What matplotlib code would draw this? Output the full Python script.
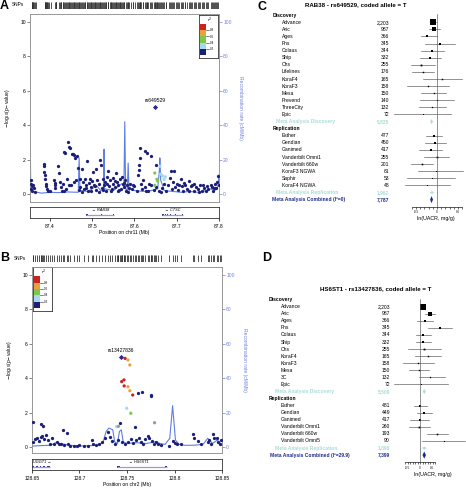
import matplotlib
matplotlib.use("Agg")
import matplotlib.pyplot as plt
import matplotlib.transforms as mtransforms
from matplotlib.patches import Polygon, Rectangle
import numpy as np

plt.rcParams['font.family'] = ['Liberation Sans', 'DejaVu Sans']

# ---------------- Panel A data (chr11, RAB38 region) ----------------
a_navy = [
    (87.354, 0.3), (87.355, 0.6), (87.356, 0.8), (87.357, 0.45), (87.358, 0.2), (87.360, 0.55),
    (87.362, 0.35), (87.364, 0.1), (87.385, 1.75), (87.386, 1.6), (87.387, 1.3), (87.388, 1.1),
    (87.389, 0.9), (87.390, 0.6), (87.391, 0.45), (87.392, 0.3), (87.395, 0.15), (87.400, 0.2),
    (87.410, 0.8), (87.411, 0.65), (87.412, 0.5), (87.413, 0.35), (87.420, 1.65), (87.421, 1.2),
    (87.423, 0.7), (87.425, 0.4), (87.428, 0.2), (87.430, 0.6), (87.432, 2.42), (87.436, 2.4),
    (87.438, 0.3), (87.440, 0.9), (87.443, 3.05), (87.445, 2.75), (87.447, 2.65), (87.450, 0.5),
    (87.452, 2.35), (87.455, 2.3), (87.458, 2.25), (87.460, 2.1), (87.462, 0.8), (87.465, 2.2),
    (87.466, 1.5), (87.470, 0.4), (87.472, 0.9), (87.475, 1.45), (87.478, 0.7), (87.480, 0.3),
    (87.482, 0.85), (87.485, 0.55), (87.488, 1.9), (87.490, 0.2), (87.492, 0.65), (87.495, 0.9),
    (87.498, 0.4), (87.500, 0.75), (87.502, 1.3), (87.505, 0.5), (87.508, 1.45), (87.510, 0.25),
    (87.512, 0.8), (87.515, 0.6), (87.518, 1.95), (87.520, 1.7), (87.522, 0.35), (87.525, 0.9),
    (87.528, 0.55), (87.530, 0.7), (87.532, 0.2), (87.535, 1.0), (87.537, 1.35), (87.540, 0.45),
    (87.543, 0.8), (87.546, 0.3), (87.548, 0.6), (87.550, 0.95), (87.553, 0.4), (87.556, 1.25),
    (87.558, 0.7), (87.560, 0.15), (87.562, 0.5), (87.565, 0.85), (87.568, 0.3), (87.570, 1.0),
    (87.572, 0.6), (87.575, 0.4), (87.578, 0.8), (87.580, 0.2), (87.583, 0.5), (87.586, 0.35),
    (87.590, 0.6), (87.595, 0.3), (87.600, 0.45), (87.605, 0.2), (87.608, 1.1), (87.610, 1.4),
    (87.611, 1.7), (87.612, 2.1), (87.613, 2.7), (87.615, 0.6), (87.618, 0.3), (87.620, 0.8),
    (87.624, 2.48), (87.626, 0.4), (87.629, 2.38), (87.632, 0.2), (87.635, 0.6), (87.638, 2.2),
    (87.640, 0.5), (87.645, 0.25), (87.650, 1.7), (87.652, 0.4), (87.657, 0.2), (87.665, 0.35),
    (87.670, 0.6), (87.675, 0.2), (87.680, 0.5), (87.683, 0.95), (87.686, 1.35), (87.690, 0.7),
    (87.694, 1.32), (87.697, 0.4), (87.700, 0.6), (87.703, 0.25), (87.709, 0.85), (87.712, 0.45),
    (87.715, 0.2), (87.720, 0.5), (87.725, 0.3), (87.730, 0.75), (87.733, 0.45), (87.736, 0.55),
    (87.740, 0.2), (87.745, 0.4), (87.750, 0.3), (87.755, 0.5), (87.760, 0.2), (87.765, 0.35),
    (87.770, 0.15), (87.775, 0.3), (87.780, 0.55), (87.783, 0.4), (87.786, 0.2), (87.790, 0.6),
    (87.793, 0.35), (87.796, 0.7), (87.798, 1.05), (87.799, 0.5),
    (87.434, 0.15), (87.444, 0.5), (87.456, 0.7), (87.468, 0.25), (87.476, 0.1), (87.486, 0.35),
    (87.496, 0.15), (87.506, 0.45), (87.516, 0.1), (87.526, 0.25), (87.536, 0.6), (87.544, 0.15),
    (87.554, 0.75), (87.564, 0.25), (87.574, 0.65), (87.584, 0.1), (87.596, 0.55), (87.628, 0.15),
    (87.662, 0.1), (87.688, 0.3), (87.706, 0.5), (87.718, 0.65), (87.728, 0.15), (87.742, 0.6),
    (87.752, 0.1), (87.762, 0.55), (87.772, 0.45), (87.788, 0.35),
]
a_colored = [  # (position, -log10 p, r2)
    (87.648, 1.22, 0.5), (87.653, 0.85, 0.5), (87.648, 0.50, 0.5), (87.655, 0.75, 0.5),
    (87.660, 1.61, 0.3), (87.662, 1.15, 0.3), (87.666, 1.05, 0.3), (87.670, 0.85, 0.3),
    (87.673, 1.00, 0.3),
]
a_lead = (87.6486, 5.04)
a_lead_name = "rs649529"
a_recomb_pos = [87.3527, 87.3535, 87.3545, 87.36, 87.38, 87.40, 87.42, 87.44, 87.467, 87.469,
                87.471, 87.49, 87.50, 87.51, 87.52, 87.527, 87.528, 87.529, 87.55, 87.56, 87.57,
                87.575, 87.577, 87.579, 87.583, 87.585, 87.587, 87.59, 87.60, 87.62, 87.64,
                87.655, 87.659, 87.66, 87.662, 87.668, 87.67, 87.69, 87.71, 87.73, 87.75, 87.77,
                87.78, 87.79, 87.797, 87.80]
a_recomb_rate = [1, 26, 2, 1.5, 0.5, 1, 0.8, 1.2, 1, 21, 2, 1.5, 3, 5, 2, 2, 26, 3, 2, 4, 6,
                 4, 42, 3, 2, 18, 2, 3, 2, 1.5, 2, 3, 14, 21, 8, 4, 2, 1.5, 1, 1.5, 1, 2, 3, 2, 4, 11]
a_xticks = [87.4, 87.5, 87.6, 87.7, 87.8]
a_genes = [  # name, start, end, strand, label x, exons
    ("RAB38", 87.486, 87.551, "-", 87.520, [(87.486, 87.489), (87.520, 87.522), (87.548, 87.551)]),
    ("CTSC", 87.666, 87.714, "-", 87.690, [(87.666, 87.669), (87.672, 87.674), (87.678, 87.680),
                                           (87.684, 87.686), (87.690, 87.692), (87.697, 87.699),
                                           (87.712, 87.714)]),
]

# ---------------- Panel B data (chr2, HS6ST1 region) ----------------
b_navy = [
    (128.6507, 1.43), (128.660, 1.32), (128.662, 1.2), (128.683, 0.99), (128.687, 0.8), (128.651, 0.3),
    (128.653, 0.45), (128.655, 0.5), (128.657, 0.35), (128.659, 0.6), (128.661, 0.64), (128.663, 0.45),
    (128.6647, 0.7), (128.667, 0.4), (128.669, 0.2), (128.671, 0.5), (128.673, 0.15), (128.676, 0.31),
    (128.678, 0.2), (128.680, 0.15), (128.684, 0.1), (128.688, 0.15), (128.690, 0.08), (128.694, 0.05),
    (128.697, 0.06), (128.700, 0.1), (128.705, 0.05), (128.709, 0.08), (128.713, 0.4), (128.714, 0.2),
    (128.717, 0.1), (128.720, 0.15), (128.724, 0.3), (128.727, 0.5), (128.730, 0.9), (128.732, 0.6),
    (128.734, 0.35), (128.737, 0.2), (128.740, 0.4), (128.743, 1.41), (128.745, 0.3), (128.748, 0.15),
    (128.751, 0.3), (128.754, 0.45), (128.756, 0.25), (128.758, 1.15), (128.760, 0.4), (128.762, 3.12),
    (128.7655, 3.2), (128.763, 0.5), (128.765, 0.3), (128.767, 0.2), (128.769, 0.45), (128.772, 0.64),
    (128.773, 0.5), (128.775, 3.02), (128.7755, 2.95), (128.776, 0.35), (128.778, 0.2), (128.781, 0.3),
    (128.783, 0.15), (128.786, 0.1), (128.7945, 0.06), (128.798, 0.35), (128.800, 0.25), (128.803, 0.2),
    (128.807, 0.15), (128.819, 0.76), (128.821, 0.55), (128.825, 0.35), (128.828, 0.2), (128.835, 0.31),
    (128.836, 0.4), (128.838, 0.2), (128.840, 0.76), (128.842, 0.5), (128.845, 0.55), (128.846, 0.3),
    (128.848, 0.2), (128.849, 0.4),
]
b_colored = [  # (position, -log10 p, r2); r2 = -1 means not available (grey)
    (128.748, 5.15, 0.9), (128.7444, 3.80, 0.9), (128.7468, 3.9, 0.9), (128.747, 3.55, 0.9),
    (128.756, 3.02, 0.9), (128.751, 5.06, 0.7), (128.753, 4.77, 0.7), (128.751, 3.5, 0.7),
    (128.753, 3.27, 0.7), (128.7497, 2.25, 0.3), (128.739, 1.18, 0.3), (128.754, 1.96, 0.5),
    (128.779, 1.41, -1), (128.741, 1.2, -1),
]
b_lead = (128.7434, 5.21)
b_lead_name = "rs13427836"
b_recomb_pos = [128.65, 128.66, 128.67, 128.675, 128.68, 128.685, 128.69, 128.70, 128.71, 128.72,
                128.725, 128.728, 128.731, 128.735, 128.737, 128.740, 128.742, 128.744, 128.746,
                128.75, 128.76, 128.77, 128.78, 128.785, 128.79, 128.795, 128.798, 128.801, 128.805,
                128.81, 128.82, 128.83, 128.835, 128.837, 128.84, 128.845, 128.85]
b_recomb_rate = [0.5, 0.8, 1, 2.5, 2, 1.5, 1, 0.5, 0.8, 1, 3, 9, 11, 10, 3, 2, 9, 10, 3, 2, 2.5,
                 2, 3, 2, 1.5, 5, 24, 4, 1.5, 1, 1, 1.5, 5, 4, 2, 4, 1]
b_xticks = [128.65, 128.7, 128.75, 128.8, 128.85]
b_genes = [
    ("UGGT1", 128.650, 128.669, "+", 128.651, [(128.650, 128.652), (128.654, 128.656),
                                               (128.658, 128.660), (128.662, 128.664),
                                               (128.666, 128.669)]),
    ("HS6ST1", 128.739, 128.792, "-", 128.762, [(128.739, 128.743), (128.790, 128.792)]),
]

# ---------------- Panel C data (RAB38 - rs649529) ----------------
c_disc_names = ["Advance", "Aric", "Ages", "Fhs", "Colaus", "Ship", "Chs", "Lifelines", "KoraF4",
                "KoraF3", "Mesa", "Prevend", "ThreeCity", "Epic"]
c_disc_n = [2203, 987, 366, 345, 344, 332, 255, 176, 165, 158, 150, 140, 132, 72]
c_disc_est = [-0.09, -0.08, -0.25, 0.08, -0.12, -0.16, -0.37, -0.34, 0.125, -0.21, -0.07, -0.01, -0.12, -0.34]
c_disc_lo = [-0.15, -0.19, -0.37, -0.29, -0.38, -0.41, -0.62, -0.60, -0.34, -0.72, -0.37, -0.41, -0.44, -1.03]
c_disc_hi = [-0.03, 0.06, 0.0, 0.43, 0.16, 0.10, -0.05, -0.07, 0.59, 0.28, 0.22, 0.41, 0.22, 0.34]
c_rep_names = ["Esther", "Gendian", "Ganimed", "Vanderbilt Omni1", "Vanderbilt 660w", "KoraF3 NGWA",
               "Saphir", "KoraF4 NGWA"]
c_rep_n = [477, 450, 417, 255, 201, 61, 53, 48]
c_rep_est = [-0.07, -0.04, -0.15, -0.01, -0.36, -0.02, -0.13, -0.25]
c_rep_lo = [-0.27, -0.29, -0.42, -0.30, -0.62, -0.46, -0.72, -0.77]
c_rep_hi = [0.12, 0.22, 0.12, 0.28, -0.09, 0.61, 0.44, 0.30]
c_meta_est = [-0.13, -0.12, -0.13]   # discovery, replication, combined
c_meta_n = [5825, 1962, 7787]
c_i2 = "0"

# ---------------- Panel D data (HS6ST1 - rs13427836) ----------------
d_disc_names = ["Advance", "Aric", "Ages", "Fhs", "Colaus", "Ship", "Chs", "KoraF4", "KoraF3",
                "Mesa", "3C", "Epic"]
d_disc_n = [2203, 987, 366, 345, 344, 332, 255, 165, 158, 150, 132, 72]
d_disc_est = [0.13, 0.40, 0.21, 0.80, 0.11, 0.11, 0.17, 0.31, -0.07, -0.03, 0.41, 0.05]
d_disc_lo = [0.07, 0.21, -0.12, 0.31, -0.16, -0.16, -0.49, -0.19, -0.69, -0.43, -0.03, -1.03]
d_disc_hi = [0.19, 0.60, 0.51, 1.28, 0.44, 0.44, 0.84, 0.84, 0.57, 0.37, 0.99, 1.11]
d_rep_names = ["Esther", "Gendian", "Ganimed", "Vanderbilt Omni1", "Vanderbilt 660w", "Vanderbilt Omni5"]
d_rep_n = [481, 449, 417, 260, 193, 90]
d_rep_est = [0.01, 0.17, -0.01, -0.03, 0.68, 0.95]
d_rep_lo = [-0.25, -0.12, -0.39, -0.45, 0.28, 0.08]
d_rep_hi = [0.28, 0.47, 0.37, 0.41, 1.11, 1.81]
d_meta_est = [0.17, 0.17, 0.17]
d_meta_n = [5509, 1890, 7399]
d_i2 = "29.9"

# ---------------- drawing ----------------
W, H = 466, 494
fig = plt.figure(figsize=(W / 100, H / 100), dpi=100)


def box(x0, y0, x1, y1):
    return [x0 / W, 1 - y1 / H, (x1 - x0) / W, (y1 - y0) / H]


def fx(px):
    return px / W


def fy(py):
    return 1 - py / H


NAVY = '#1b1f7a'
R2COLS = ['#1b1f7a', '#a6d8ee', '#7cc94a', '#e9a23b', '#cc2222']
RECOMB = '#4d6fe0'
RLAB = '#7080dd'
GRID = '#999999'


def r2col(r):
    if r < 0:
        return '#9a9a9a'
    return R2COLS[min(int(r / 0.2), 4)]


def r2_legend(px):
    lx = fig.add_axes(box(*px))
    lx.set_xlim(0, 1)
    lx.set_ylim(-0.1, 1.3)
    for k, c in enumerate(R2COLS):
        lx.add_patch(Rectangle((0.07, k * 0.2), 0.3, 0.2, color=c, lw=0))
    for v in [0.2, 0.4, 0.6, 0.8]:
        lx.plot([0.37, 0.55], [v, v], color='#222222', lw=0.4)
        lx.text(0.56, v, f"{v}", fontsize=2.2, va='center', ha='left')
    lx.text(0.55, 1.14, r"$r^2$", fontsize=3.2, ha='center', va='center')
    lx.set_xticks([])
    lx.set_yticks([])
    for s in lx.spines.values():
        s.set_color('#333333')
        s.set_linewidth(0.6)


def regional(main_px, gene_px, rug_px, xlim, ylim, navy, colored, lead, lead_name,
             rpos, rrate, xticks, xlabel, leg_px, genes, letter, letter_px, snps_px):
    ax = fig.add_axes(box(*main_px))
    ax2 = ax.twinx()
    ax.set_zorder(ax2.get_zorder() + 1)
    ax.patch.set_visible(False)
    ax2.plot(rpos, rrate, color=RECOMB, lw=0.8, alpha=0.9)
    ax2.set_ylim(ylim[0] * 10, ylim[1] * 10)
    ax2.set_yticks([0, 20, 40, 60, 80, 100])
    ax2.tick_params(axis='y', colors=RLAB, labelsize=3.6, length=2, width=0.5, pad=1)
    ax.set_xlim(*xlim)
    ax.set_ylim(*ylim)
    ax.set_xticks([])
    ax.set_yticks([0, 2, 4, 6, 8, 10])
    ax.tick_params(axis='y', labelsize=3.6, length=2, width=0.5, pad=1, color='#555555')
    for a in (ax, ax2):
        for s in a.spines.values():
            s.set_color(GRID)
            s.set_linewidth(0.6)
    ax.scatter([p[0] for p in navy], [p[1] for p in navy], s=5.5, color=NAVY, lw=0, zorder=3)
    ax.scatter([p[0] for p in colored], [p[1] for p in colored], s=5.5,
               color=[r2col(p[2]) for p in colored], lw=0, zorder=4)
    ax.scatter([lead[0]], [lead[1]], s=7, marker='D', color='#2a2a8a', lw=0, zorder=5)
    ax.text(lead[0], lead[1] + 0.42, lead_name, fontsize=3.6, ha='center', va='center')
    mx = (main_px[1] + main_px[3]) / 2
    fig.text(fx(main_px[0] - 23), fy(mx), r"$-$log$_{10}$(p$-$value)", rotation=90,
             fontsize=3.6, ha='center', va='center')
    fig.text(fx(main_px[2] + 22), fy(mx), "Recombination rate (cM/Mb)", rotation=270,
             fontsize=3.6, ha='center', va='center', color=RLAB)
    # gene track
    gx = fig.add_axes(box(*gene_px))
    gx.set_xlim(*xlim)
    gx.set_ylim(0, 1)
    gx.set_yticks([])
    gx.set_xticks(xticks)
    gx.set_xticklabels([f"{t:g}" for t in xticks])
    gx.tick_params(axis='x', labelsize=3.6, length=2, width=0.5, pad=2)
    gx.set_xlabel(xlabel, fontsize=3.6, labelpad=1)
    for s in gx.spines.values():
        s.set_color('#333333')
        s.set_linewidth(0.6)
    for name, st, en, strand, lxp, exons in genes:
        gx.plot([st, en], [0.28, 0.28], color='#9a9ad8', lw=0.9, solid_capstyle='butt')
        for e0, e1 in exons:
            gx.add_patch(Rectangle((e0, 0.16), e1 - e0, 0.24, color='#2b2b8f', lw=0))
        if strand == '-':
            gx.text(lxp, 0.7, "\u2190 " + name, fontsize=2.8, style='italic', ha='center', va='center')
        else:
            gx.text(lxp, 0.7, name + " \u2192", fontsize=2.8, style='italic', ha='left', va='center')
    # SNP rug
    rx = fig.add_axes(box(*rug_px))
    rx.set_xlim(*xlim)
    rx.set_ylim(0, 1)
    allpos = sorted(set([p[0] for p in navy] + [p[0] for p in colored] + [lead[0]]))
    rx.vlines(allpos, 0, 1, color='#333333', lw=0.6)
    rx.axis('off')
    fig.text(fx(snps_px[0]), fy(snps_px[1]), "SNPs", fontsize=3.4, ha='left', va='center')
    fig.text(fx(letter_px[0]), fy(letter_px[1]), letter, fontsize=9, fontweight='bold',
             ha='left', va='center')
    r2_legend(leg_px)


regional((30, 14, 219, 202), (30, 207, 219, 218), (31, 2, 219, 9),
         (87.3527, 87.8), (-0.465, 10.465), a_navy, a_colored, a_lead, a_lead_name,
         a_recomb_pos, a_recomb_rate, a_xticks, "Position on chr11 (Mb)",
         (199, 15, 218, 58), a_genes, "A", (0, 6), (12, 5))
regional((32, 267, 222, 453), (32, 459, 222, 470), (32, 255, 222, 262),
         (128.65, 128.85), (-0.35, 10.465), b_navy, b_colored, b_lead, b_lead_name,
         b_recomb_pos, b_recomb_rate, b_xticks, "Position on chr2 (Mb)",
         (33, 267, 52, 311), b_genes, "B", (0, 258), (14, 258))


def forest(ax_px, ylim, xlim, names_d, n_d, est_d, lo_d, hi_d, names_r, n_r, est_r, lo_r, hi_r,
           meta_est, meta_n, i2, hw, cols, title, title_px, letter, letter_px, nmax):
    ax = fig.add_axes(box(*ax_px))
    ax.set_xlim(*xlim)
    ax.set_ylim(*ylim)
    ax.patch.set_visible(False)
    tr = mtransforms.blended_transform_factory(fig.transFigure, ax.transData)
    hx, nx, numx, mdx, mcx = cols
    nd, nr = len(names_d), len(names_r)
    fs = 3.6
    meta_col = '#a8dcd8'
    comb_col = '#1f2a8c'
    ax.text(fx(hx), -1, "Discovery", transform=tr, fontsize=fs, fontweight='bold', va='center')
    ax.text(fx(hx), nd + 1, "Replication", transform=tr, fontsize=fs, fontweight='bold', va='center')

    def study(row, name, n, e, lo, hi):
        ax.text(fx(nx), row, name, transform=tr, fontsize=fs, va='center')
        ax.text(fx(numx), row, f"{n:,}", transform=tr, fontsize=fs, va='center', ha='right')
        ax.plot([lo, hi], [row, row], color='#555555', lw=0.45, clip_on=False)
        ax.plot([e], [row], marker='s', color='black', ms=max(0.7, 3.8 * np.sqrt(n / nmax)),
                mew=0, clip_on=False)

    for i in range(nd):
        study(i, names_d[i], n_d[i], est_d[i], lo_d[i], hi_d[i])
    for i in range(nr):
        study(nd + 2 + i, names_r[i], n_r[i], est_r[i], lo_r[i], hi_r[i])

    def diamond(row, e, w, h, col):
        ax.add_patch(Polygon([(e - w, row), (e, row - h), (e + w, row), (e, row + h)],
                             closed=True, color=col, lw=0))

    rows = [nd, nd + 2 + nr, nd + 3 + nr]
    labels = ["Meta Analysis Discovery", "Meta Analysis Replication", f"Meta Analysis Combined (I\u00b2={i2})"]
    for k in range(3):
        col = comb_col if k == 2 else meta_col
        xx = mcx if k == 2 else mdx
        ax.text(fx(xx), rows[k], labels[k], transform=tr, fontsize=fs, va='center', color=col,
                fontweight='bold')
        ax.text(fx(numx), rows[k], f"{meta_n[k]:,}", transform=tr, fontsize=fs, va='center',
                ha='right', color=col, fontweight='bold')
        diamond(rows[k], meta_est[k], hw[k], [0.35, 0.2, 0.5][k], col)
    ax.plot([0, 0], [-1.1, ylim[0]], color='#555555', lw=0.45)
    for s in ['top', 'left', 'right']:
        ax.spines[s].set_visible(False)
    ax.spines['bottom'].set_bounds(-0.6, 0.6)
    ax.spines['bottom'].set_linewidth(0.45)
    ax.set_yticks([])
    ax.set_xticks([-0.5, 0, 0.5])
    ax.set_xticklabels(["-0.5", "0", "0.5"])
    ax.set_xticks(np.round(np.arange(-0.6, 0.61, 0.1), 2), minor=True)
    ax.tick_params(axis='x', which='major', labelsize=2.2, length=1.6, width=0.4, pad=1)
    ax.tick_params(axis='x', which='minor', length=1.1, width=0.4)
    ax.set_xlabel("ln(UACR, mg/g)", fontsize=3.8, labelpad=1.5)
    fig.text(fx(title_px[0]), fy(title_px[1]), title, fontsize=4.4, fontweight='bold',
             ha='center', va='center')
    fig.text(fx(letter_px[0]), fy(letter_px[1]), letter, fontsize=9, fontweight='bold',
             ha='left', va='center')


forest((405, 12, 466, 206.7), (26, -1.45), (-0.762, 0.69),
       c_disc_names, c_disc_n, c_disc_est, c_disc_lo, c_disc_hi,
       c_rep_names, c_rep_n, c_rep_est, c_rep_lo, c_rep_hi,
       c_meta_est, c_meta_n, c_i2, [0.035, 0.05, 0.035], (273, 282, 389, 276, 272),
       "RAB38 - rs649529, coded allele = T", (356, 5), "C", (258, 7), 2203)
forest((400, 292, 466, 462.2), (22, -2.08), (-0.8, 1.84),
       d_disc_names, d_disc_n, d_disc_est, d_disc_lo, d_disc_hi,
       d_rep_names, d_rep_n, d_rep_est, d_rep_lo, d_rep_hi,
       d_meta_est, d_meta_n, d_i2, [0.06, 0.09, 0.07], (269, 281, 390, 275, 270),
       "HS6ST1 - rs13427836, coded allele = T", (376, 289), "D", (262, 258), 2203)

fig.savefig("out.png", dpi=100)
